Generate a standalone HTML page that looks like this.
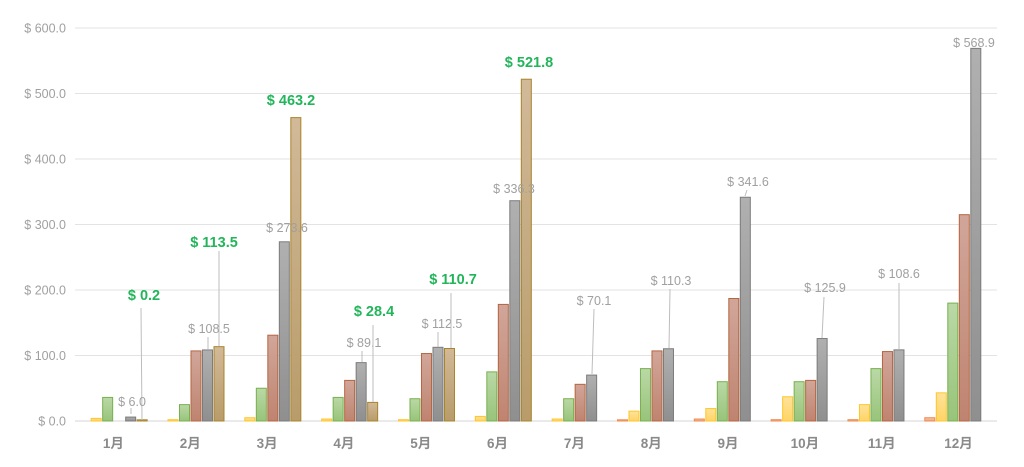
<!DOCTYPE html>
<html><head><meta charset="utf-8"><style>
html,body{margin:0;padding:0;background:#fff;width:1024px;height:467px;overflow:hidden}
svg{display:block;font-family:"Liberation Sans","Noto Sans CJK SC",sans-serif}
</style></head><body>
<svg id="c" width="1024" height="467" viewBox="0 0 1024 467" xmlns="http://www.w3.org/2000/svg">
<defs>
<linearGradient id="g0" x1="0" y1="0" x2="0" y2="1"><stop offset="0" stop-color="#f8c7a6"/><stop offset="1" stop-color="#f1a579"/></linearGradient>
<linearGradient id="g1" x1="0" y1="0" x2="0" y2="1"><stop offset="0" stop-color="#ffe39a"/><stop offset="1" stop-color="#ffd466"/></linearGradient>
<linearGradient id="g2" x1="0" y1="0" x2="0" y2="1"><stop offset="0" stop-color="#bad9a6"/><stop offset="1" stop-color="#98c47a"/></linearGradient>
<linearGradient id="g3" x1="0" y1="0" x2="0" y2="1"><stop offset="0" stop-color="#d1a69a"/><stop offset="1" stop-color="#bf8470"/></linearGradient>
<linearGradient id="g4" x1="0" y1="0" x2="0" y2="1"><stop offset="0" stop-color="#b0b0b0"/><stop offset="1" stop-color="#8f8f8f"/></linearGradient>
<linearGradient id="g5" x1="0" y1="0" x2="0" y2="1"><stop offset="0" stop-color="#d2b998"/><stop offset="1" stop-color="#b89c6a"/></linearGradient>
</defs>
<g id="grid"></g><g id="bars"></g><g id="lbl"></g>
</svg>
<script>
var NS="http://www.w3.org/2000/svg",svg=document.getElementById('c');
function el(p,t,a,txt){var e=document.createElementNS(NS,t);for(var k in a)e.setAttribute(k,a[k]);if(txt!=null)e.textContent=txt;document.getElementById(p).appendChild(e);return e;}
var Y0=421,S=0.655;
for(var i=0;i<=6;i++){var y=Y0-i*65.5;el('grid','line',{x1:75,x2:997,y1:y,y2:y,stroke:i==0?'#d6d6d6':'#e3e3e3','stroke-width':1});
el('grid','text',{x:66,y:y+4.5,'text-anchor':'end','font-size':12.5,fill:'#a0a0a0'},'$ '+(i*100)+'.0');}
var strokes=['#ee8a50','#ffc52a','#78b04f','#b5653f','#7b7b7b','#a8842c'];
var D=[[0,4,36,0,6,0.2],[0,2,25,107,108.5,113.5],[0,5,50,131,273.6,463.2],[0,3,36,62,89.1,28.4],[0,2,34,103,112.5,110.7],[0,7,75,178,336.3,521.8],[0,3,34,56,70.1,0],[1,15,80,107,110.3,0],[3,19,60,187,341.6,0],[2,37,60,62,125.9,0],[2,25,80,106,108.6,0],[5,43,180,315,568.9,0]];
for(var m=0;m<12;m++){var c=75+76.83*(m+0.5);
el('lbl','text',{x:c,y:448,'text-anchor':'middle','font-size':13.5,'font-weight':'bold',fill:'#8a8a8a'},(m+1)+'月');
for(var k=0;k<6;k++){var v=D[m][k];if(v<=0)continue;var h=Math.max(v*S,1.2);var x=c+(k-2.5)*11.5-5;
el('bars','rect',{x:x,y:Y0-h,width:10,height:h,fill:'url(#g'+k+')',stroke:strokes[k],'stroke-width':1});}}
// labels: [text, x, y baseline, green, leader x1,y1,x2,y2]
var L=[
['$ 0.2',144,300,1,141,308,142,420],
['$ 6.0',132,406,0,131,408,131,414],
['$ 113.5',214,247,1,219,251,219,346],
['$ 108.5',209,333,0,208,337,208,349],
['$ 273.6',287,232,0,0],
['$ 463.2',291,105,1,0],
['$ 89.1',364,347,0,362,351,362,362],
['$ 28.4',374,316,1,373,325,373,402],
['$ 112.5',442,328,0,438,332,438,347],
['$ 110.7',453,284,1,451,293,451,348],
['$ 336.3',514,193,0,0],
['$ 521.8',529,67,1,0],
['$ 70.1',594,305,0,594,309,592,374],
['$ 110.3',671,285,0,670,289,669,348],
['$ 341.6',748,186,0,747,190,745,196],
['$ 125.9',825,292,0,824,297,822,338],
['$ 108.6',899,278,0,899,283,899,349],
['$ 568.9',974,47,0,0]];
L.forEach(function(l){
if(l[4])el('lbl','line',{x1:l[4],y1:l[5],x2:l[6],y2:l[7],stroke:'#bdbdbd','stroke-width':1});
if(l[3])el('lbl','text',{x:l[1],y:l[2],'text-anchor':'middle','font-size':14.5,'font-weight':'bold',fill:'#22b55a'},l[0]);
else el('lbl','text',{x:l[1],y:l[2],'text-anchor':'middle','font-size':12.5,fill:'#a0a0a0'},l[0]);
});
</script>
</body></html>
